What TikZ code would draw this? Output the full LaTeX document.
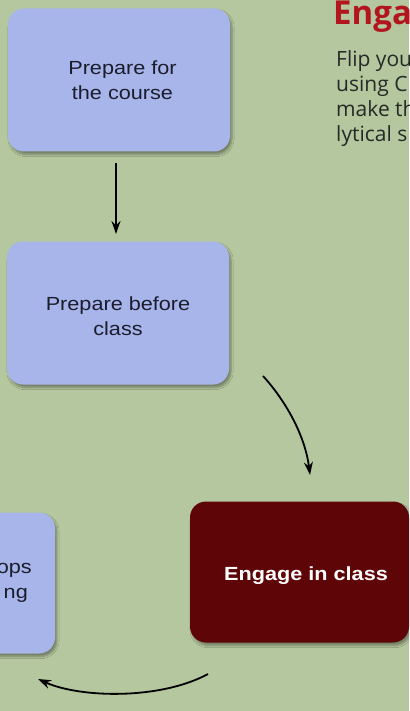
\documentclass[tikz,border=0pt]{standalone}
\usepackage{fontspec}
\setmainfont{Liberation Sans}
\newfontfamily\boxfont[FakeStretch=1.14]{Liberation Sans}
\newfontfamily\sidefont{Open Sans}
\usetikzlibrary{arrows.meta,shadows.blur}
\definecolor{bgcol}{HTML}{B4C79E}
\definecolor{bluebox}{HTML}{A8B5EA}
\definecolor{redbox}{HTML}{5E0508}
\definecolor{titlered}{HTML}{B3151E}
\definecolor{sidetext}{HTML}{262A26}
\definecolor{boxtext}{HTML}{1B1C2C}
\tikzset{
  x=1pt, y=-1pt,
  stepbox/.style={rounded corners=16pt, inner sep=0pt,
    blur shadow={shadow xshift=2pt, shadow yshift=-3pt, shadow blur steps=6, shadow opacity=35}},
  bluestep/.style={stepbox, fill=bluebox},
  redstep/.style={stepbox, fill=redbox},
  btext/.style={font=\boxfont\fontsize{19}{25.5}\selectfont, text=boxtext, align=center, inner sep=0pt},
  flow/.style={line width=1.8pt, draw=black, -{Stealth[length=13pt,width=9pt]}},
  side/.style={font=\sidefont\fontsize{21}{25}\selectfont, text=sidetext, anchor=base west, inner sep=0pt}
}
\begin{document}
\begin{tikzpicture}
\useasboundingbox (0,0) rectangle (409,711);
\clip (0,0) rectangle (409,711);
\fill[bgcol] (0,0) rectangle (409,711);
% boxes
\node[bluestep, minimum width=222pt, minimum height=143pt] (box1) at (119,80) {};
\node[bluestep, minimum width=222pt, minimum height=143pt] (box2) at (118,313) {};
\node[redstep, minimum width=219pt, minimum height=141pt] (box3) at (299.5,572) {};
\node[bluestep, minimum width=222pt, minimum height=141pt] (box4) at (-56,583) {};
% texts
\node[btext] (t1) at (122.5,80) {Prepare for\\the course};
\node[btext] (t2) at (118,316) {Prepare before\\class};
\node[btext, text=white, font=\boxfont\bfseries\fontsize{19}{25.5}\selectfont, anchor=base] (t3) at (306,580) {Engage in class};
\node[btext, anchor=base east] (t4a) at (32,573) {ops};
\node[btext, anchor=base east] (t4b) at (28,598) {ng};
% side text
\node[side, font=\sidefont\bfseries\fontsize{33}{34}\selectfont, text=titlered] (title) at (333,25) {Enga};
\node[side] (s1) at (336,67) {Flip you};
\node[side] (s2) at (336,92) {using C};
\node[side] (s3) at (336,117) {make th};
\node[side] (s4) at (336,142) {lytical s};
% connectors
\coordinate (a1s) at (116,163);
\coordinate (a1e) at (116,234);
\coordinate (a2s) at (263,376);
\coordinate (a2e) at (310,475);
\coordinate (a3s) at (208,674);
\coordinate (a3e) at (38,679);
\draw[flow] (a1s) -- (a1e);
\draw[flow] (a2s) .. controls (285,400) and (305,435) .. (a2e);
\draw[flow] (a3s) .. controls (160,700) and (80,698) .. (a3e);
\end{tikzpicture}
\end{document}
